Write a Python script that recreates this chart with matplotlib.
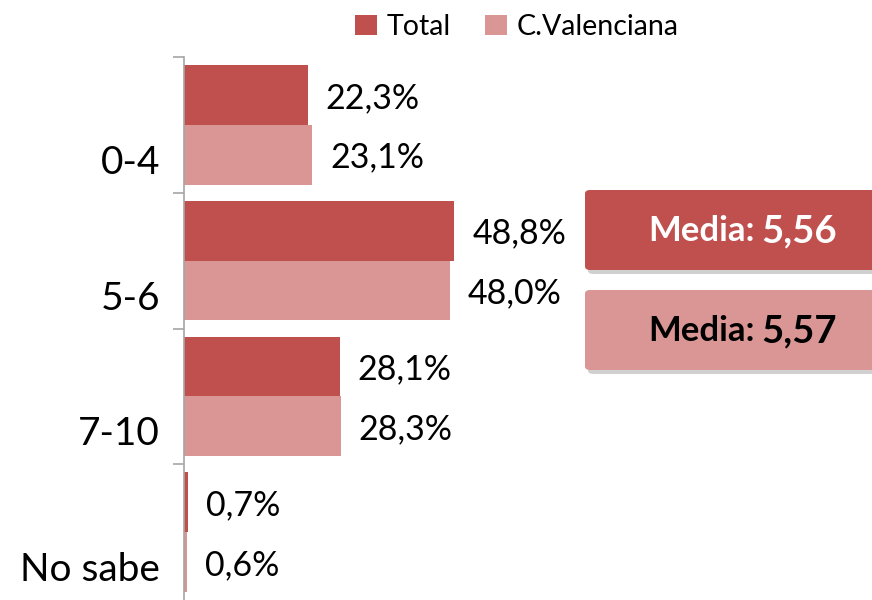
import matplotlib
matplotlib.use("Agg")
import matplotlib.pyplot as plt
from matplotlib.patches import FancyBboxPatch
import numpy as np

categories = ["0-4", "5-6", "7-10", "No sabe"]
total = [22.3, 48.8, 28.1, 0.7]
valenciana = [23.1, 48.0, 28.3, 0.6]
series_names = ["Total", "C.Valenciana"]
media_total = "5,56"
media_cv = "5,57"

C_TOTAL = "#C0504D"
C_CV = "#D99694"
GREY = "#A6A6A6"

plt.rcParams["font.family"] = ["Lato", "DejaVu Sans"]

W, H = 872, 600
fig = plt.figure(figsize=(W / 100, H / 100), dpi=100)
ax = fig.add_axes([184 / W, 0, 1 - 184 / W, 1 - 57 / H])

y = np.arange(len(categories))
h = 0.44
ax.barh(y - h / 2, total, h, color=C_TOTAL, label=series_names[0])
ax.barh(y + h / 2, valenciana, h, color=C_CV, label=series_names[1])

def pct(v):
    return f"{v:.1f}%".replace(".", ",")

for yi, a, b in zip(y, total, valenciana):
    ax.annotate(pct(a), (a, yi - h / 2), xytext=(18, -3), textcoords="offset pixels",
                va="center", ha="left", fontsize=24.5)
    ax.annotate(pct(b), (b, yi + h / 2), xytext=(18, -3), textcoords="offset pixels",
                va="center", ha="left", fontsize=24.5)

ax.set_xlim(0, (W - 184) / 5.54)
ax.set_ylim(len(categories) - 0.5, -0.5)
ax.set_yticks(np.arange(len(categories)) - 0.5)
ax.set_yticklabels([])
ax.tick_params(axis="y", length=8, color=GREY, width=1.2, direction="out")
for yi, c in zip(y, categories):
    ax.annotate(c, (0, yi), xytext=(-24, -38), textcoords="offset pixels",
                ha="right", va="center", fontsize=28)
ax.set_xticks([])
for s in ["top", "right", "bottom"]:
    ax.spines[s].set_visible(False)
ax.spines["left"].set_color(GREY)
ax.spines["left"].set_linewidth(1.2)

fig.legend(loc="center", bbox_to_anchor=(517 / W, 1 - 27 / H), ncol=2, frameon=False,
           fontsize=20.5, handlelength=0.75, handleheight=0.75, handletextpad=0.35,
           columnspacing=1.2)

# media boxes
def media_box(y_top, color, txt_color, value):
    x0, w, hh = 585, 300, 80
    shadow = FancyBboxPatch(((x0 + 3) / W, 1 - (y_top + hh + 4) / H), w / W, hh / H,
                            boxstyle="round,pad=0,rounding_size=0.006",
                            transform=fig.transFigure, facecolor="#D0D0D0",
                            edgecolor="none", zorder=1)
    box = FancyBboxPatch((x0 / W, 1 - (y_top + hh) / H), w / W, hh / H,
                         boxstyle="round,pad=0,rounding_size=0.006",
                         transform=fig.transFigure, facecolor=color,
                         edgecolor="none", zorder=2)
    fig.patches.extend([shadow, box])
    yc = 1 - (y_top + hh / 2 + 1) / H
    fig.text(755 / W, yc, "Media:", ha="right", va="center", fontsize=25,
             fontweight="bold", color=txt_color, zorder=3)
    fig.text(761 / W, yc, value, ha="left", va="center", fontsize=27.5,
             fontweight="bold", color=txt_color, zorder=3)

media_box(190, C_TOTAL, "white", media_total)
media_box(290, C_CV, "black", media_cv)

fig.savefig("out.png", dpi=100)
